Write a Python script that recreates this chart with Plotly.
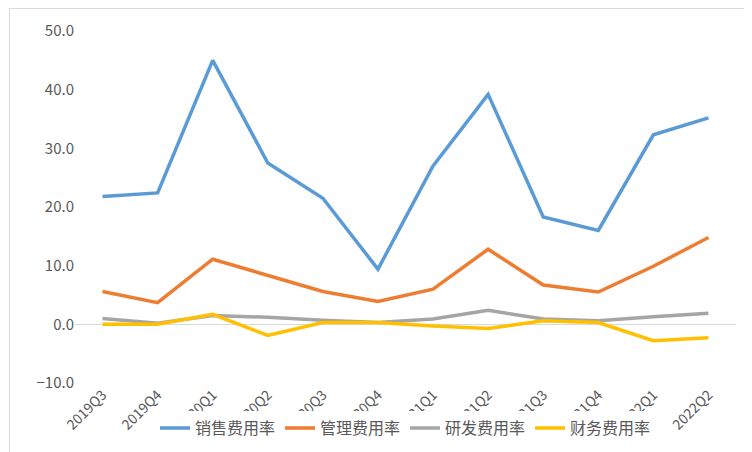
import plotly.graph_objects as go

quarters = ['2019Q3', '2019Q4', '2020Q1', '2020Q2', '2020Q3', '2020Q4',
            '2021Q1', '2021Q2', '2021Q3', '2021Q4', '2022Q1', '2022Q2']
sales = [21.8, 22.4, 45.0, 27.5, 21.5, 9.4, 27.0, 39.2, 18.3, 16.0, 32.3, 35.2]
admin = [5.6, 3.7, 11.1, 8.4, 5.6, 3.9, 6.0, 12.8, 6.7, 5.5, 9.9, 14.8]
rnd = [1.0, 0.2, 1.5, 1.2, 0.7, 0.3, 0.9, 2.4, 0.9, 0.6, 1.3, 1.9]
finance = [0.0, 0.0, 1.7, -1.9, 0.3, 0.3, -0.3, -0.7, 0.6, 0.3, -2.8, -2.3]

series = [('销售费用率', sales, '#5B9BD5'),
          ('管理费用率', admin, '#ED7D31'),
          ('研发费用率', rnd, '#A5A5A5'),
          ('财务费用率', finance, '#FFC000')]

fig = go.Figure()
for name, vals, color in series:
    fig.add_trace(go.Scatter(x=quarters, y=vals, name=name, mode='lines',
                             line=dict(color=color, width=3.5)))

fig.update_layout(
    width=752, height=452,
    paper_bgcolor='white', plot_bgcolor='white',
    margin=dict(l=67, r=24, t=23, b=77),
    font=dict(family='Noto Sans CJK SC', size=15, color='#595959'),
    legend=dict(orientation='h', x=0.5, xanchor='center', y=-0.08, yanchor='top',
                font=dict(size=16)),
    xaxis=dict(tickangle=-45, showgrid=False, showline=False, zeroline=False,
               range=[-0.5, 11.5], tickfont=dict(size=14)),
    yaxis=dict(range=[-10, 50], dtick=10, tickformat='.1f', showgrid=False,
               zeroline=True, zerolinecolor='#D9D9D9', zerolinewidth=1,
               tickfont=dict(size=15)),
    shapes=[dict(type='rect', xref='paper', yref='paper', x0=-0.099, x1=1.034,
                 y0=-0.215, y1=1.064, line=dict(color='#D9D9D9', width=1))],
)

fig.write_html('out.html')
